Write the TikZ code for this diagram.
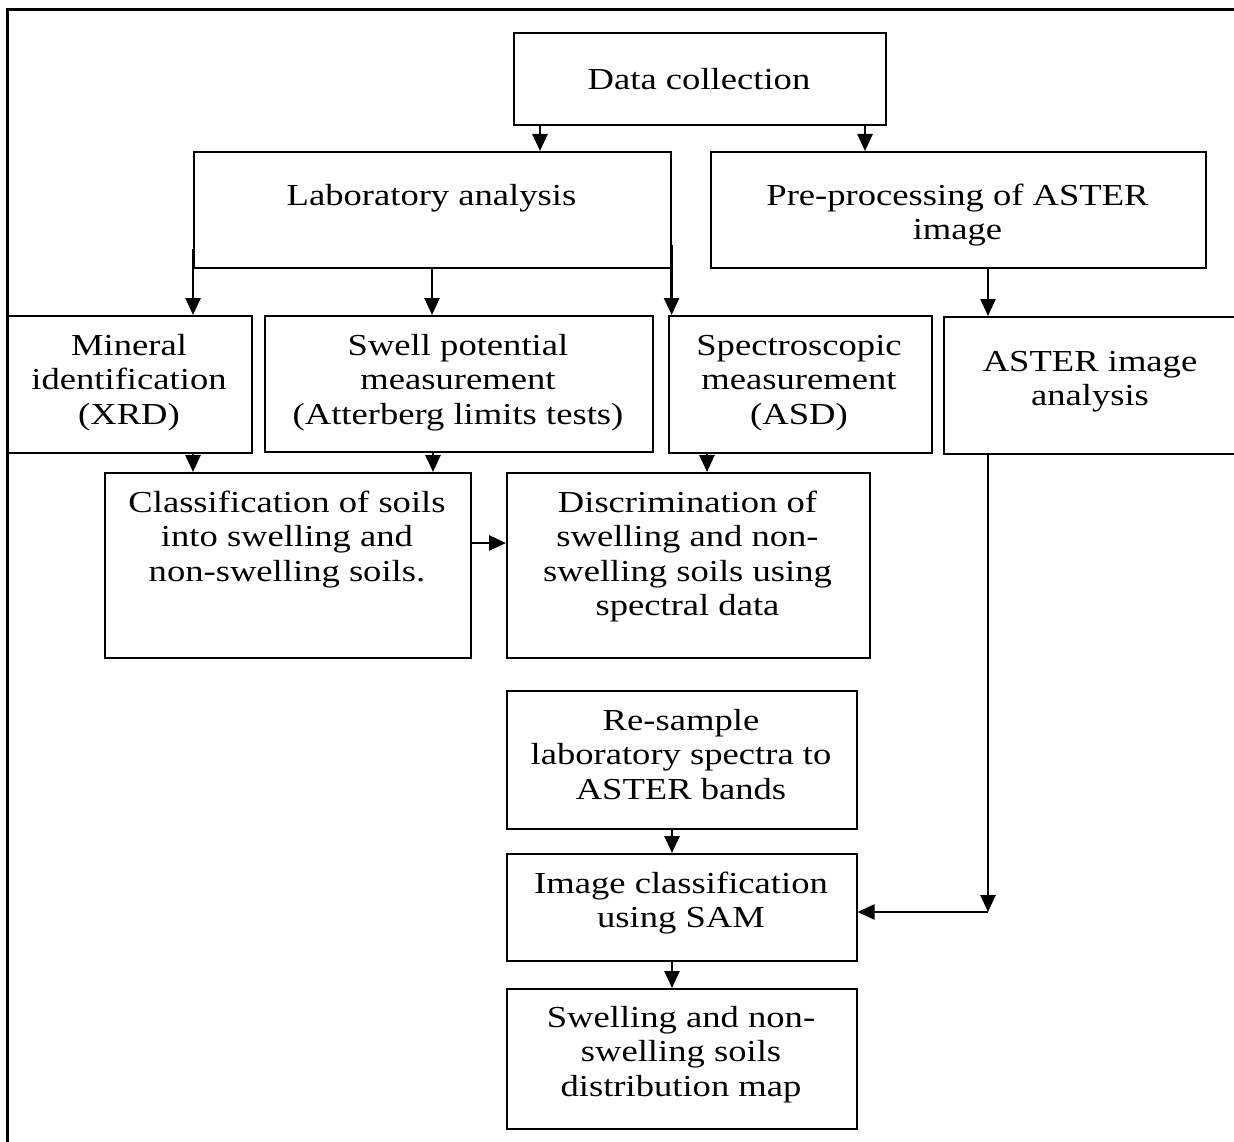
\documentclass[tikz,border=0pt]{standalone}
\usepackage{fontspec}
\setmainfont{Liberation Serif}
\usepackage{graphicx}
\usetikzlibrary{arrows.meta}
\newcommand{\sx}[1]{\scalebox{1.2}[1]{#1}}
\newcommand{\fl}{\rule{0pt}{26pt}}
\begin{document}
\begin{tikzpicture}[x=1pt,y=-1pt,
  box/.style={draw, line width=1.6pt, inner sep=0pt, anchor=north west},
  txt/.style={inner sep=0pt, anchor=north, align=center, font=\fontsize{30.5}{34.5}\selectfont},
  arr/.style={line width=2.6pt, -{Triangle[length=17pt,width=15pt]}},
  frame/.style={line width=2.2pt}]
\useasboundingbox (0,0) rectangle (1234,1142);
\clip (0,0) rectangle (1234,1142);
\fill[white] (0,0) rectangle (1234,1142);
% outer frame
\draw[frame] (7.5,1142) -- (7.5,9.5) -- (1234,9.5);
% boxes
\node[box, minimum width=372pt, minimum height=92pt] (dc) at (513,32) {};
\node[box, minimum width=477pt, minimum height=116pt] (lab) at (193,151) {};
\node[box, minimum width=495pt, minimum height=116pt] (pre) at (710,151) {};
\node[box, minimum width=244pt, minimum height=137pt] (min) at (7,315) {};
\node[box, minimum width=388pt, minimum height=136pt] (swell) at (264,315) {};
\node[box, minimum width=263pt, minimum height=137pt] (spec) at (668,315) {};
\node[box, minimum width=297pt, minimum height=137pt] (aster) at (943,316) {};
\node[box, minimum width=366pt, minimum height=185pt] (cls) at (104,472) {};
\node[box, minimum width=363pt, minimum height=185pt] (disc) at (506,472) {};
\node[box, minimum width=350pt, minimum height=138pt] (res) at (506,690) {};
\node[box, minimum width=350pt, minimum height=107pt] (img) at (506,853) {};
\node[box, minimum width=350pt, minimum height=140pt] (map) at (506,988) {};
% texts (anchor = first baseline - 26)
\node[txt] (dcT) at (699,63) {\fl\sx{Data collection}};
\node[txt] (labT) at (431.5,179) {\fl\sx{Laboratory analysis}};
\node[txt] (preT) at (957.5,179) {\fl\sx{Pre-processing of ASTER}\\\sx{image}};
\node[txt] (minT) at (129,329) {\fl\sx{Mineral}\\\sx{identification}\\\sx{(XRD)}};
\node[txt] (swellT) at (458,329) {\fl\sx{Swell potential}\\\sx{measurement}\\\sx{(Atterberg limits tests)}};
\node[txt] (specT) at (799,329) {\fl\sx{Spectroscopic}\\\sx{measurement}\\\sx{(ASD)}};
\node[txt] (asterT) at (1090,345) {\fl\sx{ASTER image}\\\sx{analysis}};
\node[txt] (clsT) at (287,486) {\fl\sx{Classification of soils}\\\sx{into swelling and}\\\sx{non-swelling soils.}};
\node[txt] (discT) at (687.5,486) {\fl\sx{Discrimination of}\\\sx{swelling and non-}\\\sx{swelling soils using}\\\sx{spectral data}};
\node[txt] (resT) at (681,704) {\fl\sx{Re-sample}\\\sx{laboratory spectra to}\\\sx{ASTER bands}};
\node[txt] (imgT) at (681,867) {\fl\sx{Image classification}\\\sx{using SAM}};
\node[txt] (mapT) at (681,1001) {\fl\sx{Swelling and non-}\\\sx{swelling soils}\\\sx{distribution map}};
% connectors
\draw[arr] ([xshift=27pt]dc.south west) -- ([xshift=27pt]dc.south west |- lab.north);
\draw[arr] ([xshift=352pt]dc.south west) -- ([xshift=352pt]dc.south west |- pre.north);
\draw[arr] ([yshift=20pt]lab.south west) -- (lab.south west |- min.north);
\draw[arr] ([xshift=239pt]lab.south west) -- ([xshift=239pt]lab.south west |- swell.north);
\draw[arr] ([yshift=24pt]lab.south east) -- (lab.south east |- spec.north);
\draw[arr] ([xshift=278pt]pre.south west) -- ([xshift=278pt]pre.south west |- aster.north);
\draw[arr] ([xshift=186pt]min.south west) -- ([xshift=186pt]min.south west |- cls.north);
\draw[arr] ([xshift=169pt]swell.south west) -- ([xshift=169pt]swell.south west |- cls.north);
\draw[arr] ([xshift=39pt]spec.south west) -- ([xshift=39pt]spec.south west |- disc.north);
\draw[arr] ([yshift=-71pt]cls.north east) -- ([yshift=-71pt]cls.north east -| disc.west);
\coordinate (bend) at (988,912);
\draw[arr] ([xshift=45pt]aster.south west) -- (bend);
\draw[arr] (bend) -- (bend -| img.east);
\draw[arr] ([xshift=166pt]res.south west) -- ([xshift=166pt]res.south west |- img.north);
\draw[arr] ([xshift=166pt]img.south west) -- ([xshift=166pt]img.south west |- map.north);
\end{tikzpicture}
\end{document}
